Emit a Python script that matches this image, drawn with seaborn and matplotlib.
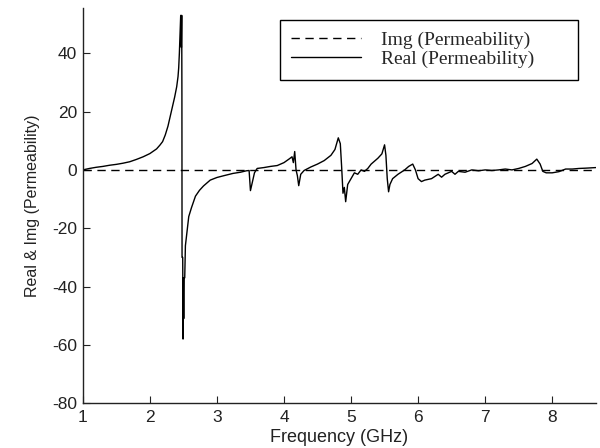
import matplotlib
matplotlib.use("Agg")
import matplotlib.pyplot as plt
import seaborn as sns

# Real part of permeability
freq = [1.00, 1.10, 1.20, 1.30, 1.40, 1.50, 1.60, 1.70, 1.80, 1.90,
        2.00, 2.10, 2.15, 2.19, 2.23, 2.27, 2.31, 2.34, 2.37, 2.40,
        2.42, 2.43, 2.44, 2.45, 2.46, 2.47, 2.475, 2.478, 2.48, 2.49,
        2.495, 2.50, 2.505, 2.51, 2.52, 2.53, 2.56, 2.58, 2.62, 2.68,
        2.74, 2.80, 2.90, 3.00, 3.10, 3.24, 3.35, 3.44, 3.48, 3.50,
        3.53, 3.56, 3.60, 3.70, 3.80, 3.90, 4.00, 4.08, 4.12, 4.14,
        4.16, 4.18, 4.20, 4.22, 4.25, 4.30, 4.40, 4.50, 4.60, 4.70,
        4.76, 4.81, 4.84, 4.86, 4.88, 4.90, 4.92, 4.95, 5.00, 5.05,
        5.10, 5.15, 5.20, 5.25, 5.30, 5.40, 5.46, 5.50, 5.52, 5.54,
        5.56, 5.58, 5.62, 5.70, 5.80, 5.86, 5.92, 5.96, 6.00, 6.05,
        6.10, 6.20, 6.30, 6.35, 6.40, 6.50, 6.55, 6.60, 6.70, 6.80,
        6.90, 7.00, 7.10, 7.20, 7.30, 7.40, 7.50, 7.60, 7.70, 7.77,
        7.82, 7.86, 7.91, 8.00, 8.10, 8.20, 8.30, 8.40, 8.50, 8.65]
real = [0.0, 0.5, 0.9, 1.2, 1.6, 1.9, 2.3, 2.8, 3.6, 4.5,
        5.6, 7.2, 8.5, 9.7, 12, 15, 19, 22, 25, 28.5,
        32, 35, 40, 47, 53, 42, 53, 25.8, -30, -30,
        -58, -37, -51, -37, -37, -26, -20, -16, -13, -9,
        -7, -5.5, -3.5, -2.6, -2, -1.2, -0.8, -0.3, -0.2, -7.1,
        -4, -1, 0.5, 0.8, 1.2, 1.5, 2.5, 3.8, 4.5, 2.5,
        6.3, 0, -2, -5.4, -1.5, -0.2, 1, 2, 3.2, 5,
        7, 11, 9, 1, -8, -6, -10.9, -5, -3, -1,
        -1.5, 0, -0.5, 0.5, 2, 4, 5.5, 8.6, 5, -3,
        -7.5, -5, -3, -1.5, 0, 1.2, 2, 0, -3, -4,
        -3.5, -3, -1.5, -2.5, -1.5, -0.5, -1.5, -0.5, -0.8, 0,
        -0.3, 0, -0.2, 0, 0.3, 0, 0.5, 1.2, 2.2, 3.7,
        2, -0.5, -1, -1, -0.6, 0.3, 0.3, 0.5, 0.6, 0.8]

# Imaginary part stays on zero across the band
img_freq = [1.0, 8.65]
img = [0.0, 0.0]

sns.set_style("ticks")
plt.rcParams["font.family"] = ["Liberation Sans", "DejaVu Sans"]
plt.rcParams["axes.unicode_minus"] = False

fig = plt.figure(figsize=(6, 4.48), dpi=100)
ax = fig.add_axes([0.138, 0.10, 0.855, 0.882])

sns.lineplot(x=img_freq, y=img, ax=ax, color="black", linewidth=1.0,
             linestyle=(0, (6, 4)), estimator=None, sort=False,
             label="Img (Permeability)")
sns.lineplot(x=freq, y=real, ax=ax, color="black", linewidth=1.0,
             estimator=None, sort=False, label="Real (Permeability)")

ax.set_xlim(1, 8.65)
ax.set_ylim(-80, 55.5)
ax.set_xticks(range(1, 9))
ax.set_yticks(range(-80, 41, 20))
ax.tick_params(direction="in", length=5, labelsize=12.5, colors="#222222")
ax.tick_params(axis="x", pad=5)
ax.tick_params(axis="y", pad=4)
for s in ["top", "right"]:
    ax.spines[s].set_visible(False)
for s in ["left", "bottom"]:
    ax.spines[s].set_color("#222222")
    ax.spines[s].set_linewidth(1.0)

ax.set_xlabel("Frequency (GHz)", fontsize=13, labelpad=3, color="#222222")
ax.set_ylabel("Real & Img (Permeability)", fontsize=11.5, labelpad=9, color="#222222")

leg = ax.legend(loc="upper left", bbox_to_anchor=(0.384, 0.825, 0.581, 0.145),
                mode="expand", borderaxespad=0,
                prop={"family": "Liberation Serif", "size": 14},
                handlelength=3.6, fancybox=False, framealpha=1,
                edgecolor="black", borderpad=0.6, labelspacing=0.05,
                handletextpad=1.0)
leg.get_frame().set_linewidth(1.0)

fig.savefig("out.png", dpi=100)
